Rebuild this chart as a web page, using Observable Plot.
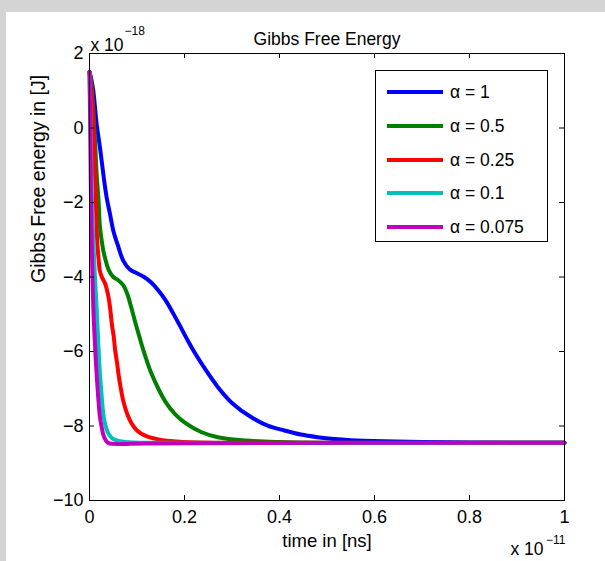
<!DOCTYPE html>
<html>
<head>
<meta charset="utf-8">
<script src="https://cdn.jsdelivr.net/npm/d3@7"></script>
<script src="https://cdn.jsdelivr.net/npm/@observablehq/plot@0.6"></script>
<style>
  html, body { margin: 0; padding: 0; background: #d4d4d4; }
  #wrap { position: relative; width: 605px; height: 561px; overflow: hidden; font-family: "Liberation Sans", Arial, sans-serif; }
  #panel { position: absolute; left: 6px; top: 12px; right: 0; bottom: 0; background: #ffffff; }
  #chart { position: absolute; left: 0; top: 0; }
  #legend { position: absolute; left: 375px; top: 70px; width: 173px; height: 172px; box-sizing: border-box; border: 1px solid #000; background: #fff; }
  .row { position: absolute; left: 0; height: 20px; width: 100%; }
  .swatch { position: absolute; left: 11px; top: 8px; width: 56px; height: 4px; }
  .lab { position: absolute; left: 74px; top: 0; font-size: 17.5px; line-height: 20px; color: #000; white-space: nowrap; }
</style>
</head>
<body>
<div id="wrap"><div id="panel"></div><div id="chart"></div><div id="legend"></div></div>
<script>
// ---- data (time in units of 1e-11, energy in units of 1e-18 J) ----
const alphas = ["1", "0.5", "0.25", "0.1", "0.075"];
const colors = ["#0000ff", "#008000", "#ff0000", "#00bfbf", "#bf00bf"];

const t1 = [0, 0.004, 0.008, 0.015, 0.022, 0.029, 0.036, 0.043, 0.05, 0.061, 0.071, 0.085, 0.1, 0.115, 0.13, 0.145, 0.16, 0.175, 0.19, 0.205, 0.22, 0.245, 0.27, 0.3, 0.34, 0.375, 0.41, 0.445, 0.48, 0.515, 0.55, 0.62, 0.7, 0.8, 0.9, 1.0];
const g1 = [1.5, 1.3, 1.0, 0.11, -0.52, -1.23, -1.86, -2.3, -2.75, -3.2, -3.56, -3.8, -3.9, -4.0, -4.15, -4.36, -4.62, -4.95, -5.3, -5.66, -6.0, -6.5, -6.95, -7.38, -7.76, -7.99, -8.12, -8.23, -8.3, -8.35, -8.38, -8.41, -8.43, -8.44, -8.45, -8.45];

const t2 = [0, 0.004, 0.008, 0.0116, 0.015, 0.019, 0.022, 0.026, 0.029, 0.034, 0.04, 0.05, 0.06, 0.071, 0.08, 0.088, 0.096, 0.105, 0.113, 0.122, 0.13, 0.145, 0.16, 0.18, 0.2, 0.235, 0.27, 0.33, 0.4, 0.5, 1.0];
const g2 = [1.5, 1.2, 0.5, -0.34, -1.23, -1.95, -2.66, -3.05, -3.29, -3.55, -3.8, -4.0, -4.08, -4.22, -4.47, -4.82, -5.2, -5.6, -5.95, -6.3, -6.58, -7.0, -7.35, -7.68, -7.9, -8.16, -8.3, -8.39, -8.43, -8.45, -8.45];

const t3 = [0, 0.004, 0.007, 0.0095, 0.0116, 0.0135, 0.015, 0.017, 0.019, 0.022, 0.026, 0.033, 0.04, 0.044, 0.047, 0.051, 0.054, 0.058, 0.061, 0.066, 0.071, 0.08, 0.089, 0.1, 0.117, 0.145, 0.19, 0.3, 1.0];
const g3 = [1.5, 1.0, 0.5, -0.4, -1.22, -2.0, -2.7, -3.2, -3.5, -3.85, -4.0, -4.18, -4.54, -4.9, -5.26, -5.6, -5.97, -6.3, -6.6, -7.0, -7.32, -7.7, -7.94, -8.12, -8.26, -8.36, -8.42, -8.45, -8.45];

const t4 = [0, 0.002, 0.004, 0.006, 0.008, 0.0115, 0.015, 0.0185, 0.022, 0.026, 0.029, 0.035, 0.04, 0.047, 0.054, 0.075, 0.15, 1.0];
const g4 = [1.5, 0.3, -1.2, -2.3, -3.0, -4.0, -4.81, -5.8, -6.6, -7.25, -7.67, -8.05, -8.21, -8.32, -8.37, -8.43, -8.45, -8.45];

const t5 = [0, 0.0015, 0.003, 0.0046, 0.008, 0.0115, 0.015, 0.022, 0.026, 0.029, 0.035, 0.04, 0.05, 0.08, 0.12, 0.2, 1.0];
const g5 = [1.5, 0.0, -1.8, -3.02, -4.81, -5.8, -6.6, -7.76, -8.05, -8.23, -8.4, -8.46, -8.48, -8.48, -8.47, -8.46, -8.45];

const xTicks = [0, 0.2, 0.4, 0.6, 0.8, 1];
const yTicks = [-10, -8, -6, -4, -2, 0, 2];

const titleText = "Gibbs Free Energy";
const xLabel = "time in [ns]";
const yLabel = "Gibbs Free energy in [J]";
const xExp = "\u221211";
const yExp = "\u221218";

// ---- build table ----
const series = [[t1, g1], [t2, g2], [t3, g3], [t4, g4], [t5, g5]];
const rows = [];
series.forEach(([ts, gs], i) => ts.forEach((t, j) => rows.push({alpha: alphas[i], t, g: gs[j]})));

const W = 605, H = 561, mL = 89, mR = 41, mT = 53, mB = 61;
const pw = W - mL - mR, ph = H - mT - mB;
const fmtY = d => d < 0 ? "\u2212" + Math.abs(d) : String(d);

const inner = xTicks.slice(1, -1);
const innerY = yTicks.slice(1, -1);

const chart = Plot.plot({
  width: W, height: H,
  marginLeft: mL, marginRight: mR, marginTop: mT, marginBottom: mB,
  style: {background: "transparent", fontFamily: "'Liberation Sans', Arial, sans-serif", fontSize: "18px", color: "#000", overflow: "visible"},
  x: {domain: [0, 1]},
  y: {domain: [-10, 2]},
  color: {domain: alphas, range: colors},
  marks: [
    Plot.line(rows, {x: "t", y: "g", z: "alpha", stroke: "alpha", strokeWidth: 4, curve: "catmull-rom", strokeLinejoin: "round"}),
    Plot.ruleX(inner, {insetTop: ph - 5, stroke: "#000"}),
    Plot.ruleX(inner, {insetBottom: ph - 5, stroke: "#000"}),
    Plot.ruleY(innerY, {insetRight: pw - 5, stroke: "#000"}),
    Plot.ruleY(innerY, {insetLeft: pw - 5, stroke: "#000"}),
    Plot.frame({stroke: "#000", strokeWidth: 1}),
    Plot.axisX({ticks: xTicks, tickSize: 0, tickPadding: 10, tickFormat: d => String(d), label: null, fontSize: 18}),
    Plot.axisY({ticks: yTicks, tickSize: 0, tickPadding: 6, tickFormat: fmtY, label: null, fontSize: 18}),
    Plot.text([titleText], {text: d => d, frameAnchor: "top", dy: -21, fontSize: 17.5}),
    Plot.text([yLabel], {text: d => d, frameAnchor: "left", rotate: -90, dx: -51, dy: 6, fontSize: 19.5}),
    Plot.text([xLabel], {text: d => d, frameAnchor: "bottom", dy: 46, fontSize: 18.5}),
    Plot.text(["x 10"], {text: d => d, frameAnchor: "top-left", textAnchor: "start", dx: 1, dy: -15, fontSize: 17.5}),
    Plot.text([yExp], {text: d => d, frameAnchor: "top-left", textAnchor: "start", dx: 35, dy: -27, fontSize: 12}),
    Plot.text(["x 10"], {text: d => d, frameAnchor: "bottom-right", textAnchor: "end", dx: -21, dy: 54, fontSize: 17.5}),
    Plot.text([xExp], {text: d => d, frameAnchor: "bottom-right", textAnchor: "end", dx: 1, dy: 43, fontSize: 12})
  ]
});
document.getElementById("chart").appendChild(chart);

// ---- legend ----
const legend = d3.select("#legend");
alphas.forEach((a, i) => {
  const r = legend.append("div").attr("class", "row").style("top", (11 + i * 33.75) + "px");
  r.append("div").attr("class", "swatch").style("background", colors[i]);
  r.append("div").attr("class", "lab").text("\u03b1 = " + a);
});
</script>
</body>
</html>
